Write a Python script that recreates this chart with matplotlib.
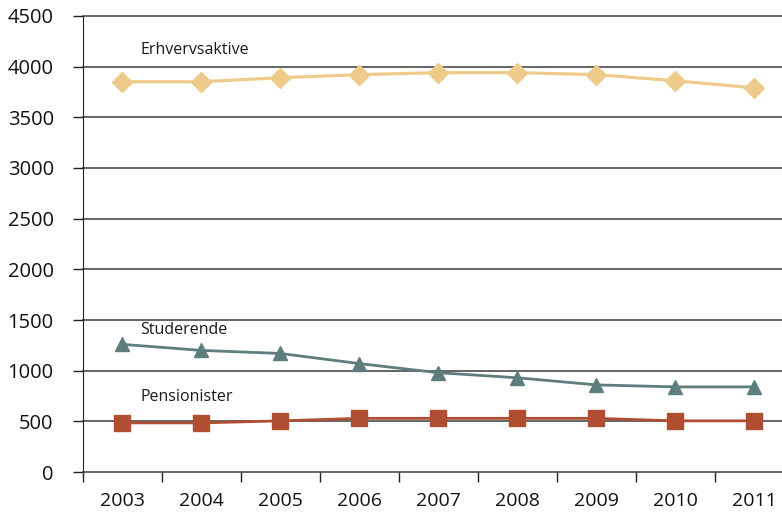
import matplotlib.pyplot as plt
import numpy as np

years = ['2003', '2004', '2005', '2006', '2007', '2008', '2009', '2010', '2011']
erhvervsaktive = [3850, 3850, 3890, 3920, 3940, 3940, 3920, 3860, 3790]
studerende = [1260, 1200, 1170, 1070, 980, 930, 860, 840, 840]
pensionister = [485, 485, 505, 530, 530, 530, 530, 505, 505]

plt.rcParams['font.family'] = ['Open Sans', 'DejaVu Sans']

fig = plt.figure(figsize=(7.82, 5.12), dpi=100)
ax = fig.add_axes([0.106, 0.078, 0.894, 0.891])

x = np.arange(len(years))

# grid lines
for v in range(500, 5000, 500):
    ax.axhline(v, color='#3a3a3a', lw=1.1, zorder=1, clip_on=False)

ax.plot(x, erhvervsaktive, color='#EECB8A', lw=2.3, marker='D', ms=10, zorder=3)
ax.plot(x, studerende, color='#5E7E7D', lw=2.0, marker='^', ms=10, zorder=3)
ax.plot(x, pensionister, color='#B04E31', lw=2.0, marker='s', ms=11, zorder=3)

ax.text(0.23, 4160, 'Erhvervsaktive', fontsize=11.5, color='#1a1a1a', va='center')
ax.text(0.23, 1400, 'Studerende', fontsize=11.5, color='#1a1a1a', va='center')
ax.text(0.23, 740, 'Pensionister', fontsize=11.5, color='#1a1a1a', va='center')

ax.set_xlim(-0.495, 8.35)
ax.set_ylim(0, 4500)
ax.set_yticks(range(0, 5000, 500))
ax.set_xticks(x)
ax.set_xticklabels(years)
ax.set_xticks(np.arange(-0.5, 8.5, 1), minor=True)

ax.tick_params(axis='x', which='major', length=0, pad=14, labelsize=14, labelcolor='#111111')
ax.tick_params(axis='x', which='minor', length=7, width=1, color='#222222', direction='out')
ax.tick_params(axis='y', length=7, width=1, color='#222222', labelsize=14.5, pad=14,
               labelcolor='#111111')

for s in ['top', 'right']:
    ax.spines[s].set_visible(False)
ax.spines['left'].set_color('#222222')
ax.spines['bottom'].set_color('#3a3a3a')
ax.spines['bottom'].set_linewidth(1.1)

fig.savefig('out.png', dpi=100)
